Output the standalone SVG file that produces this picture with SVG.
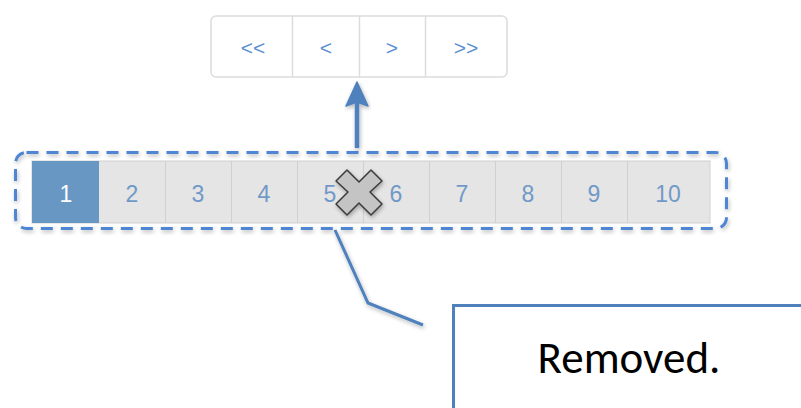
<svg xmlns="http://www.w3.org/2000/svg" width="801" height="408" viewBox="0 0 801 408">
<style>
.pg{fill:#fff;stroke:#dcdcdc;stroke-width:1.5}
.div{stroke:#dcdcdc;stroke-width:1.5}
.pt{font-family:"Liberation Sans",Arial,sans-serif;font-size:21px;fill:#5b8fd0;text-anchor:middle}
.cell{fill:#e5e5e5;stroke:#d0d0d0;stroke-width:1}
.cd{stroke:#d0d0d0;stroke-width:1}
.ct{font-family:"Liberation Sans",Arial,sans-serif;font-size:23px;fill:#7199c8;text-anchor:middle}
.blue{stroke:#4f81bd;stroke-width:3;fill:none}
</style>
<defs>
<filter id="sh" x="-10%" y="-20%" width="120%" height="150%">
<feGaussianBlur in="SourceAlpha" stdDeviation="2"/>
<feOffset dx="1" dy="2"/>
<feComponentTransfer><feFuncA type="linear" slope="0.3"/></feComponentTransfer>
<feMerge><feMergeNode/><feMergeNode in="SourceGraphic"/></feMerge>
</filter>
</defs>
<rect width="801" height="408" fill="#fff"/>

<g id="nav">
<rect class="pg" x="211" y="16" width="296" height="61" rx="5"/>
<line class="div" x1="292.5" y1="16" x2="292.5" y2="77"/>
<line class="div" x1="359.5" y1="16" x2="359.5" y2="77"/>
<line class="div" x1="425.5" y1="16" x2="425.5" y2="77"/>
<text class="pt" x="253" y="55">&lt;&lt;</text>
<text class="pt" x="326" y="55">&lt;</text>
<text class="pt" x="392" y="55">&gt;</text>
<text class="pt" x="466" y="55">&gt;&gt;</text>
</g>

<g id="pagination">
<rect class="cell" x="32" y="161" width="678" height="62"/>
<rect x="32" y="161" width="67" height="62" fill="#6897c4"/>
<line class="cd" x1="165.5" y1="161" x2="165.5" y2="223"/>
<line class="cd" x1="231.5" y1="161" x2="231.5" y2="223"/>
<line class="cd" x1="297.5" y1="161" x2="297.5" y2="223"/>
<line class="cd" x1="363.5" y1="161" x2="363.5" y2="223"/>
<line class="cd" x1="429.5" y1="161" x2="429.5" y2="223"/>
<line class="cd" x1="495.5" y1="161" x2="495.5" y2="223"/>
<line class="cd" x1="561.5" y1="161" x2="561.5" y2="223"/>
<line class="cd" x1="627.5" y1="161" x2="627.5" y2="223"/>
<text class="ct" x="66" y="202" style="fill:#fff">1</text>
<text class="ct" x="132" y="202">2</text>
<text class="ct" x="198" y="202">3</text>
<text class="ct" x="264" y="202">4</text>
<text class="ct" x="330" y="202">5</text>
<text class="ct" x="396" y="202">6</text>
<text class="ct" x="462" y="202">7</text>
<text class="ct" x="528" y="202">8</text>
<text class="ct" x="594" y="202">9</text>
<text class="ct" x="668" y="202">10</text>
</g>

<g id="group-outline">
<rect x="15.5" y="152.5" width="711" height="76" rx="11" fill="none" stroke="#4f86d4" stroke-width="3" stroke-dasharray="12 8" filter="url(#sh)"/>
</g>

<g id="remove-mark">
<path d="M359,182 L347,170 L336,181 L348,192 L336,204 L347,215 L359,203 L371,215 L382,204 L370,192 L382,181 L371,170 Z" fill="#c4c4c4" stroke="#3a3a3a" stroke-width="1.5" stroke-linejoin="round" filter="url(#sh)"/>
</g>

<g id="callout">
<rect x="453.5" y="305.5" width="360" height="120" fill="#fff" stroke="#4f81bd" stroke-width="3"/>
<text x="629" y="373" font-family="Carlito,'Open Sans','Noto Sans',sans-serif" font-size="45" fill="#000" text-anchor="middle">Removed.</text>
</g>

<g id="connectors">
<g filter="url(#sh)">
<line x1="357" y1="148" x2="357" y2="100" stroke="#4f81bd" stroke-width="4.5"/>
<path d="M357,82 L368,106 L357,102 L346,106 Z" fill="#4f81bd" stroke="#4f81bd" stroke-width="1.5" stroke-linejoin="round"/>
</g>
<polyline class="blue" points="335,230 368,303 423,325" filter="url(#sh)"/>
</g>
</svg>
